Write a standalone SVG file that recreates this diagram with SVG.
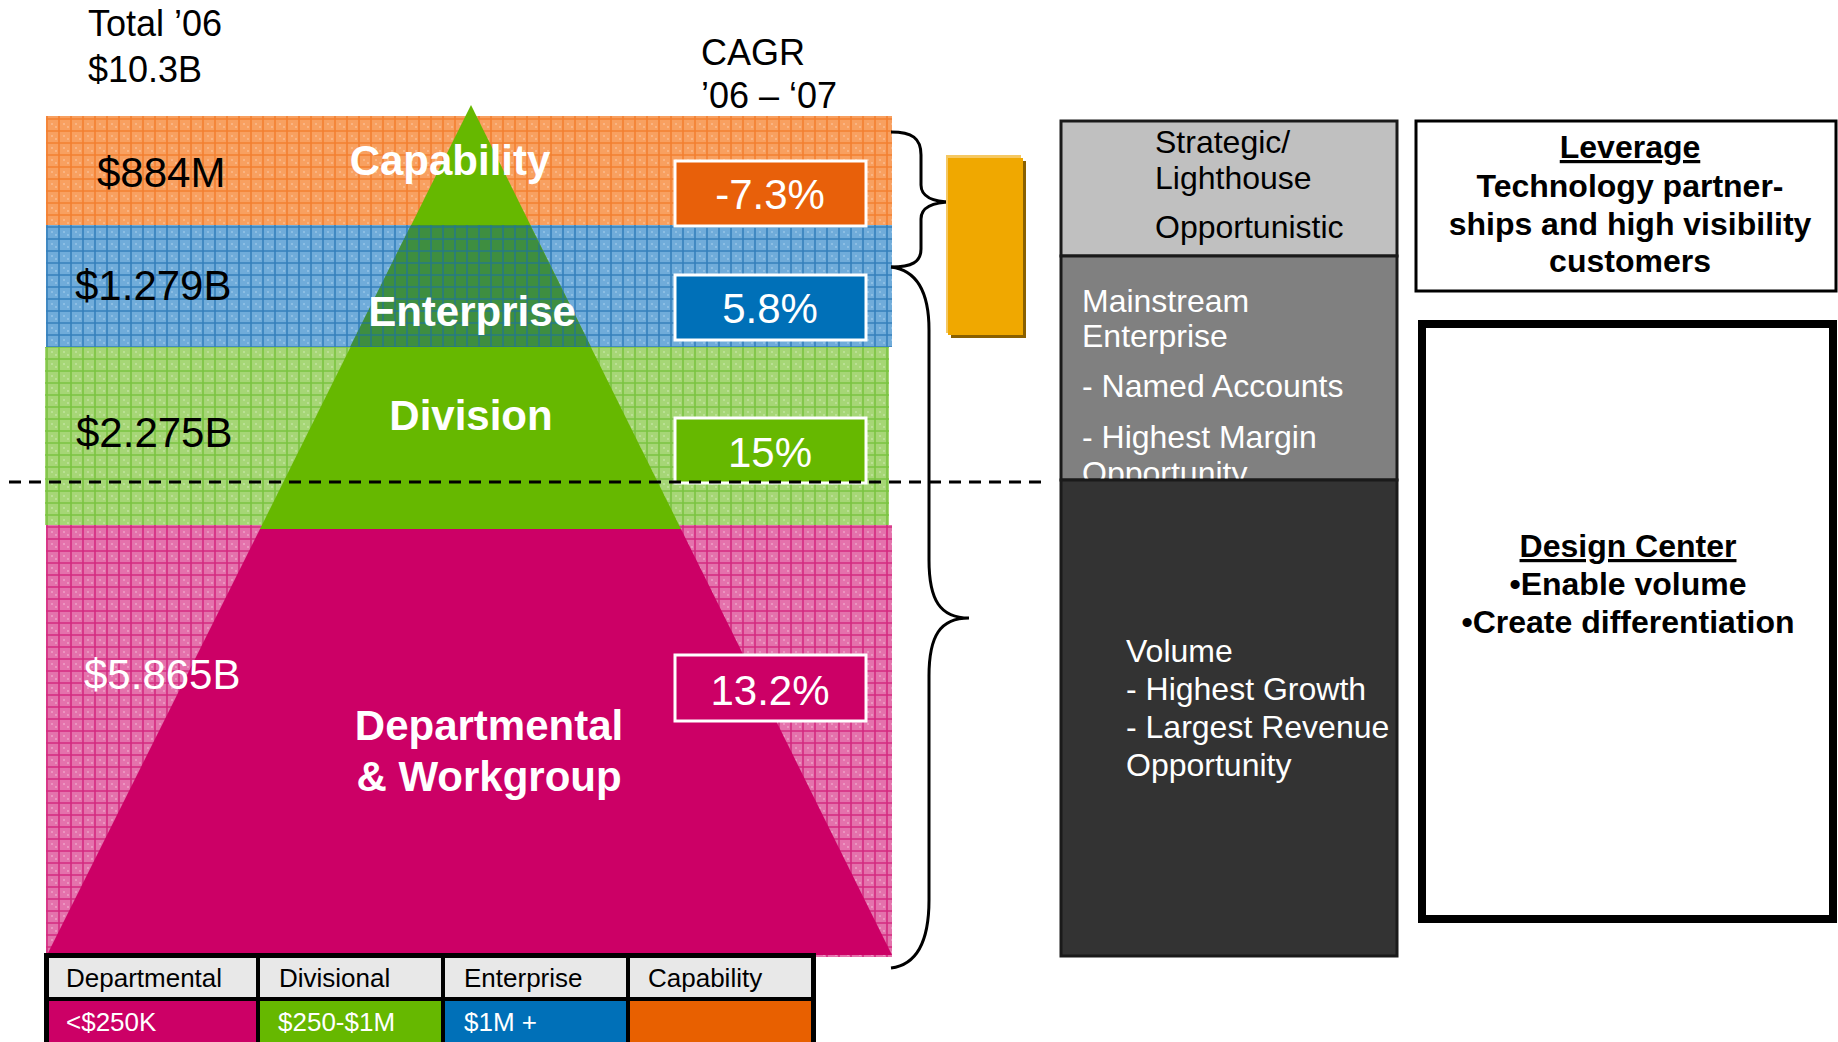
<svg xmlns="http://www.w3.org/2000/svg" width="1838" height="1042" viewBox="0 0 1838 1042">
<style>
text{font-family:"Liberation Sans",Arial,sans-serif}
.hd{font-size:36px;fill:#000}
.val{font-size:42px;fill:#000}
.lbl{font-size:42px;font-weight:bold;fill:#fff;text-anchor:middle}
.pct{font-size:42px;fill:#fff;text-anchor:middle}
.leg{font-size:26px;fill:#000}
.legw{font-size:26px;fill:#fff}
.col{font-size:32px}
.rb{font-size:32px;font-weight:bold;fill:#000;text-anchor:middle}
.brace{fill:none;stroke:#000;stroke-width:3}
</style>
<defs>
<pattern id="pOr" width="12" height="12" patternUnits="userSpaceOnUse"><rect width="12" height="12" fill="#f8a060"/><rect x="3" y="3" width="2" height="2" fill="#fab482"/><rect x="7" y="6" width="2" height="2" fill="#fab482"/><path d="M0 11H12M11 0V12" stroke="#f38030" stroke-width="1.6"/></pattern>
<pattern id="pBl" width="12" height="12" patternUnits="userSpaceOnUse"><rect width="12" height="12" fill="#70acda"/><rect x="3" y="3" width="2" height="2" fill="#8cbee4"/><rect x="7" y="6" width="2" height="2" fill="#8cbee4"/><path d="M0 11H12M11 0V12" stroke="#3580bc" stroke-width="1.6"/></pattern>
<pattern id="pGr" width="12" height="12" patternUnits="userSpaceOnUse"><rect width="12" height="12" fill="#a6d676"/><rect x="3" y="3" width="2" height="2" fill="#bae094"/><rect x="7" y="6" width="2" height="2" fill="#bae094"/><path d="M0 11H12M11 0V12" stroke="#7ac440" stroke-width="1.6"/></pattern>
<pattern id="pPk" width="12" height="12" patternUnits="userSpaceOnUse"><rect width="12" height="12" fill="#e472ac"/><rect x="3" y="3" width="2" height="2" fill="#ec94c0"/><rect x="7" y="6" width="2" height="2" fill="#ec94c0"/><path d="M0 11H12M11 0V12" stroke="#d42a80" stroke-width="1.6"/></pattern>
<pattern id="pTe" width="12" height="12" patternUnits="userSpaceOnUse"><rect width="12" height="12" fill="#3e8e40"/><path d="M0 11H12M11 0V12" stroke="#267a84" stroke-width="1.6"/></pattern>
<clipPath id="clipMid"><rect x="1061" y="256" width="336" height="223"/></clipPath>
</defs>

<g id="bands">
<rect x="46" y="116" width="846" height="109" fill="url(#pOr)"/>
<rect x="46" y="225" width="846" height="122" fill="url(#pBl)"/>
<rect x="45" y="347" width="844" height="178" fill="url(#pGr)"/>
<rect x="46" y="525" width="846" height="432" fill="url(#pPk)"/>
</g>

<g id="pyramid">
<polygon points="471,105 681,529 260,529" fill="#66b800"/>
<polygon points="411,225 530,225 591,347 350,347" fill="url(#pTe)"/>
<polygon points="260,529 681,529 892,955 47,955" fill="#cc0066"/>
</g>

<g id="values">
<text class="hd" x="88" y="36">Total ’06</text>
<text class="hd" x="88" y="82">$10.3B</text>
<text class="hd" x="701" y="65">CAGR</text>
<text class="hd" x="701" y="108">’06 – ‘07</text>
<text class="val" x="97" y="187">$884M</text>
<text class="val" x="75" y="300">$1.279B</text>
<text class="val" x="76" y="447">$2.275B</text>
<text class="val" x="84" y="689" style="fill:#fff">$5.865B</text>
</g>

<g id="labels">
<text class="lbl" x="450" y="175">Capability</text>
<text class="lbl" x="472" y="326">Enterprise</text>
<text class="lbl" x="471" y="430">Division</text>
<text class="lbl" x="489" y="740">Departmental</text>
<text class="lbl" x="489" y="791">&amp; Workgroup</text>
</g>

<g id="cagr-capability"><rect x="675" y="161" width="191" height="65" fill="#e8600a" stroke="#fff" stroke-width="3"/><text class="pct" x="770" y="209">-7.3%</text></g>
<g id="cagr-enterprise"><rect x="675" y="275" width="191" height="65" fill="#0070b8" stroke="#fff" stroke-width="3"/><text class="pct" x="770" y="323">5.8%</text></g>
<g id="cagr-division"><rect x="675" y="418" width="191" height="65" fill="#66b800" stroke="#fff" stroke-width="3"/><text class="pct" x="770" y="467">15%</text></g>
<g id="cagr-departmental"><rect x="675" y="655" width="191" height="66" fill="#cc0066" stroke="#fff" stroke-width="3"/><text class="pct" x="770" y="705">13.2%</text></g>

<g id="legend">
<rect x="44" y="953" width="772" height="95" fill="#000"/>
<rect x="49" y="958" width="207" height="39" fill="#e8e8e8"/>
<rect x="260" y="958" width="181" height="39" fill="#e8e8e8"/>
<rect x="445" y="958" width="181" height="39" fill="#e8e8e8"/>
<rect x="630" y="958" width="181" height="39" fill="#e8e8e8"/>
<rect x="49" y="1001" width="207" height="41" fill="#cc0066"/>
<rect x="260" y="1001" width="181" height="41" fill="#66b800"/>
<rect x="445" y="1001" width="181" height="41" fill="#0070b8"/>
<rect x="630" y="1001" width="181" height="41" fill="#e86000"/>
<text class="leg" x="66" y="987">Departmental</text>
<text class="leg" x="279" y="987">Divisional</text>
<text class="leg" x="464" y="987">Enterprise</text>
<text class="leg" x="648" y="987">Capability</text>
<text class="legw" x="66" y="1031">&lt;$250K</text>
<text class="legw" x="278" y="1031">$250-$1M</text>
<text class="legw" x="464" y="1031">$1M +</text>
</g>

<g id="connectors">
<line x1="9" y1="482" x2="1043" y2="482" stroke="#000" stroke-width="3" stroke-dasharray="12 8"/>
<path class="brace" d="M891,132 C912,132 921,138 921,155 L921,185 C921,196 932,202 952,202 C932,202 921,208 921,219 L921,249 C921,262 912,267 891,267"/>
<path class="brace" d="M891,267 C915,270 929,290 929,330 L929,560 C929,600 940,618 969,618 C940,618 929,636 929,676 L929,900 C929,945 915,965 891,968"/>
</g>

<g id="gold-bar">
<rect x="951" y="161" width="75" height="177" fill="#8a6000"/>
<rect x="946" y="155" width="75" height="178" fill="#f5c862"/>
<rect x="948" y="158" width="75" height="177" fill="#f0a800"/>
</g>

<g id="strategic">
<rect x="1061" y="121" width="336" height="135" fill="#c0c0c0" stroke="#1a1a1a" stroke-width="3"/>
<text class="col" x="1155" y="153" fill="#000">Strategic/</text>
<text class="col" x="1155" y="189" fill="#000">Lighthouse</text>
<text class="col" x="1155" y="238" fill="#000">Opportunistic</text>
</g>
<g id="mainstream">
<rect x="1061" y="256" width="336" height="224" fill="#808080" stroke="#1a1a1a" stroke-width="3"/>
<g clip-path="url(#clipMid)" fill="#fff">
<text class="col" x="1082" y="312">Mainstream</text>
<text class="col" x="1082" y="347">Enterprise</text>
<text class="col" x="1082" y="397">- Named Accounts</text>
<text class="col" x="1082" y="448">- Highest Margin</text>
<text class="col" x="1082" y="484">Opportunity</text>
</g>
</g>
<g id="volume">
<rect x="1061" y="480" width="336" height="476" fill="#333" stroke="#1a1a1a" stroke-width="3"/>
<g fill="#fff">
<text class="col" x="1126" y="662">Volume</text>
<text class="col" x="1126" y="700">- Highest Growth</text>
<text class="col" x="1126" y="738">- Largest Revenue</text>
<text class="col" x="1126" y="776">Opportunity</text>
</g>
</g>

<g id="leverage">
<rect x="1416" y="121" width="420" height="170" fill="#fff" stroke="#000" stroke-width="3"/>
<text class="rb" x="1630" y="158" text-decoration="underline">Leverage</text>
<text class="rb" x="1630" y="197">Technology partner-</text>
<text class="rb" x="1630" y="235">ships and high visibility</text>
<text class="rb" x="1630" y="272">customers</text>
</g>

<g id="design-center">
<rect x="1422" y="324" width="411" height="595" fill="#fff" stroke="#000" stroke-width="8"/>
<text class="rb" x="1628" y="557" text-decoration="underline">Design Center</text>
<text class="rb" x="1628" y="595">•Enable volume</text>
<text class="rb" x="1628" y="633">•Create differentiation</text>
</g>
</svg>
